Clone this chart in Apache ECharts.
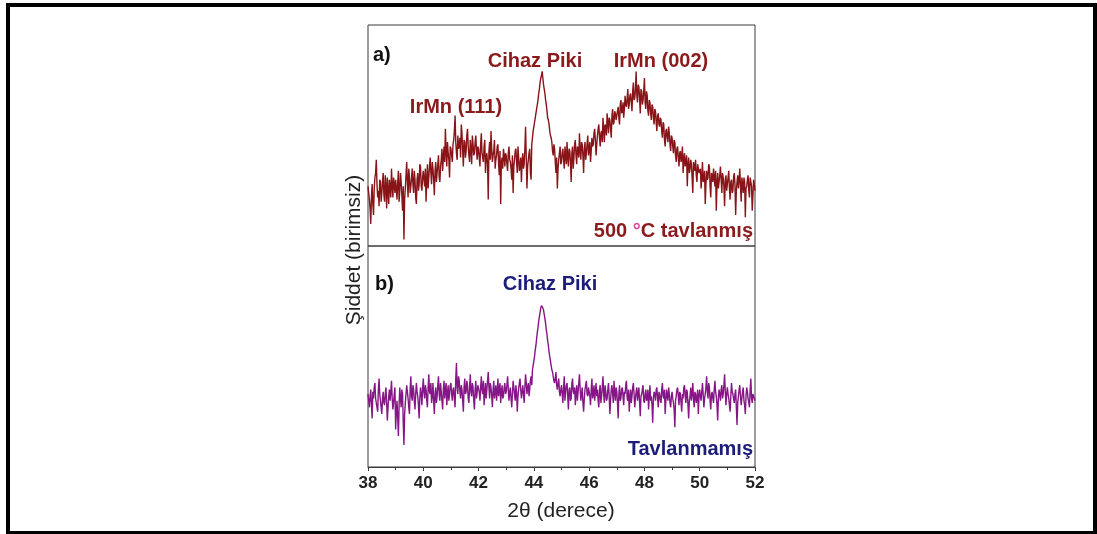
<!DOCTYPE html>
<html>
<head>
<meta charset="utf-8">
<script src="https://cdn.jsdelivr.net/npm/echarts@6/dist/echarts.min.js"></script>
<style>html,body{margin:0;padding:0;background:#fff}#c{width:1097px;height:534px}</style>
</head>
<body>
<div id="c"></div>
<script>
// 2θ sampling (degrees)
const thetaStart = 38;
const thetaStep = 0.025;
const xTicks = [38, 40, 42, 44, 46, 48, 50, 52];

// a) 500 °C annealed (arbitrary units), one row per degree
const annealed = [
27,24,21,17,10,22,28,19,14,26,31,33,39,28,22,25,18,30,29,20,24,29,33,23,20,32,27,17,31,25,19,30,26,22,35,27,22,31,28,24,
30,26,21,29,34,20,25,33,29,23,16,27,3,21,26,32,38,29,22,35,31,24,27,31,35,28,24,34,30,22,19,30,33,25,28,37,36,27,25,31,
34,30,27,35,20,29,37,26,31,36,40,33,28,38,35,30,23,34,38,29,33,37,41,31,29,36,39,44,34,40,45,38,53,43,36,47,42,39,31,45,
44,41,38,46,48,52,59,47,42,39,50,44,45,49,40,55,51,43,36,48,47,40,43,50,53,45,41,38,48,44,37,50,46,41,42,47,50,43,39,45,
44,40,36,46,51,42,40,38,45,48,33,40,42,37,21,43,47,39,52,44,38,41,43,48,35,39,41,45,46,37,32,43,19,38,40,35,44,41,36,42,
41,37,34,42,45,39,38,35,30,41,24,36,39,43,44,38,33,45,40,34,36,40,29,38,42,35,37,44,54,40,26,36,39,42,44,33,30,46,49,52,
54,56,58,60,62,64,66,69,71,74,76,77,79,76,73,71,69,66,64,61,58,57,55,52,50,49,47,43,41,46,44,38,33,40,26,35,39,42,45,37,
38,42,44,39,35,45,41,37,47,40,36,44,43,38,29,42,45,35,40,46,48,41,37,45,44,40,51,43,39,47,46,41,33,44,47,39,42,46,50,41,
44,47,38,43,49,45,46,51,53,48,41,46,50,53,55,49,45,51,52,47,58,53,47,55,54,50,60,56,51,58,57,53,49,59,62,55,56,61,60,57,
57,61,63,58,55,64,66,60,61,65,58,62,68,64,63,67,71,62,64,68,69,65,61,70,74,66,67,71,79,68,65,73,72,67,60,71,70,64,66,70,
76,65,62,70,68,61,59,66,65,60,57,64,63,58,55,62,61,56,52,59,60,55,54,58,57,52,49,56,55,48,45,52,53,49,47,54,51,46,43,50,
49,45,42,48,47,41,38,44,45,40,36,42,43,38,40,45,33,39,42,36,38,41,27,37,40,33,35,39,37,31,24,38,36,34,39,32,29,37,35,33,
33,35,26,31,38,29,30,34,19,28,34,30,31,37,36,27,22,33,32,29,35,31,27,34,16,28,33,26,29,32,36,30,24,33,31,27,18,30,32,25,
28,31,34,26,21,29,30,24,25,31,33,28,14,25,29,32,26,30,35,27,20,31,28,24,31,29,13,26,27,30,32,25,22,31,29,27,16,23,30,28,
25
];

// b) not annealed (arbitrary units), one row per degree
const unannealed = [
33,30,27,32,35,28,22,34,31,36,38,31,29,27,25,35,40,33,30,27,24,31,34,29,28,33,36,29,21,27,32,35,30,34,39,31,26,29,33,36,
17,25,30,22,14,28,36,31,27,35,33,20,10,24,29,33,37,34,31,27,24,35,41,32,30,37,35,30,26,33,38,34,32,28,22,31,36,33,28,35,
40,34,31,37,35,30,27,36,42,34,33,38,29,32,38,30,24,33,36,29,32,37,41,33,30,38,34,30,26,35,39,31,35,38,28,33,37,30,33,37,
38,33,30,35,36,31,27,40,47,36,33,41,39,34,31,37,35,30,25,36,40,33,34,39,37,31,29,36,42,34,32,38,36,30,26,35,39,31,34,37,
37,34,30,36,41,35,33,39,28,33,38,31,35,39,43,36,31,38,36,32,27,35,39,31,34,37,30,34,40,32,35,38,29,34,37,31,32,36,38,33,
34,37,41,35,30,34,36,31,27,33,39,36,33,30,37,34,25,32,35,38,40,35,31,34,37,33,29,36,42,38,33,36,38,32,35,39,41,37,44,46,
48,50,53,55,58,61,63,66,68,70,72,73,73,72,71,69,67,65,62,60,57,55,52,50,48,46,44,43,41,39,38,40,43,37,35,38,40,34,32,35,
37,33,29,36,41,30,34,37,38,32,26,35,36,30,31,38,40,34,33,36,28,33,37,30,34,38,42,35,30,33,36,29,25,31,35,37,39,33,32,36,
36,32,28,35,40,31,33,37,30,34,38,32,35,30,27,35,37,29,32,36,41,33,29,37,34,30,31,35,38,32,24,30,35,37,33,29,39,34,30,36,
34,29,22,33,37,30,31,35,36,32,28,34,33,37,39,31,30,35,25,31,35,29,32,36,38,33,27,31,34,36,30,33,36,29,23,32,33,35,37,30,
29,33,35,30,31,35,26,32,37,30,32,28,20,31,34,33,30,35,36,31,27,34,33,30,29,35,38,32,31,35,24,30,35,32,30,36,33,29,27,32,
34,31,29,26,18,30,32,35,36,32,28,34,33,29,25,33,31,36,37,32,29,35,34,28,22,30,32,36,30,33,38,31,27,34,33,29,31,35,24,32,
35,32,30,34,38,33,27,31,33,36,41,34,31,38,36,30,26,33,34,31,29,35,39,34,32,28,21,31,35,33,30,35,37,31,33,37,42,34,28,33,
36,33,31,28,25,32,38,34,33,31,29,33,35,27,19,29,32,35,37,32,28,31,34,36,30,28,24,32,36,34,31,29,27,35,40,31,29,33,33,31,
30
];

function pairs(vals) {
  return vals.map((v, i) => [+(thetaStart + i * thetaStep).toFixed(3), v]);
}

const chart = echarts.init(document.getElementById('c'), null, {renderer: 'canvas'});

const redText = '#8b1a1c';
const navyText = '#1c1c7a';
const boldFont = 'bold 20px "Liberation Sans", Arial, sans-serif';

const option = {
  animation: false,
  backgroundColor: '#fff',
  grid: [
    {left: 368, top: 25, width: 387, height: 221, show: true, borderColor: '#3a3a3a', borderWidth: 1, backgroundColor: 'transparent'},
    {left: 368, top: 246, width: 387, height: 221, show: true, borderColor: '#3a3a3a', borderWidth: 1, backgroundColor: 'transparent'}
  ],
  xAxis: [
    {gridIndex: 0, type: 'value', min: 38, max: 52, interval: 2,
     axisLine: {show: false}, axisTick: {show: false}, axisLabel: {show: false}, splitLine: {show: false}},
    {gridIndex: 1, type: 'value', min: 38, max: 52, interval: 2,
     axisLine: {show: true, onZero: false, lineStyle: {color: '#3a3a3a', width: 1}},
     axisTick: {show: true, inside: false, length: 4, lineStyle: {color: '#3a3a3a'}},
     minorTick: {show: true, splitNumber: 2, length: 3, lineStyle: {color: '#3a3a3a'}},
     axisLabel: {show: true, margin: 8, color: '#222', fontSize: 17, fontWeight: 'bold', fontFamily: '"Liberation Sans", Arial, sans-serif',
       formatter: v => xTicks.includes(v) ? String(v) : ''},
     splitLine: {show: false}}
  ],
  yAxis: [
    {gridIndex: 0, type: 'value', min: 0, max: 100, show: false},
    {gridIndex: 1, type: 'value', min: 0, max: 100, show: false}
  ],
  series: [
    {type: 'line', xAxisIndex: 0, yAxisIndex: 0, data: pairs(annealed), showSymbol: false, symbol: 'none', sampling: null,
     lineStyle: {color: '#881418', width: 1.4}, silent: true},
    {type: 'line', xAxisIndex: 1, yAxisIndex: 1, data: pairs(unannealed), showSymbol: false, symbol: 'none', sampling: null,
     lineStyle: {color: '#861686', width: 1.4}, silent: true}
  ],
  graphic: [
    {type: 'rect', shape: {x: 8, y: 5, width: 1087, height: 528}, style: {fill: 'none', stroke: '#000', lineWidth: 4}, silent: true},
    {type: 'text', style: {text: 'a)', x: 373, y: 55, font: boldFont, fill: '#111', textAlign: 'left', textVerticalAlign: 'middle'}},
    {type: 'text', style: {text: 'Cihaz Piki', x: 535, y: 61, font: boldFont, fill: redText, textAlign: 'center', textVerticalAlign: 'middle'}},
    {type: 'text', style: {text: 'IrMn (002)', x: 661, y: 61, font: boldFont, fill: redText, textAlign: 'center', textVerticalAlign: 'middle'}},
    {type: 'text', style: {text: 'IrMn (111)', x: 456, y: 107, font: boldFont, fill: redText, textAlign: 'center', textVerticalAlign: 'middle'}},
    {type: 'text', style: {
      text: '{a|500 }{b|°}{a|C tavlanmış}', x: 753, y: 231, textAlign: 'right', textVerticalAlign: 'middle',
      rich: {
        a: {font: boldFont, fill: redText},
        b: {font: 'bold 20px "Liberation Sans", Arial, sans-serif', fill: '#d0489e'}
      }}},
    {type: 'text', style: {text: 'b)', x: 375, y: 284, font: boldFont, fill: '#111', textAlign: 'left', textVerticalAlign: 'middle'}},
    {type: 'text', style: {text: 'Cihaz Piki', x: 550, y: 284, font: boldFont, fill: navyText, textAlign: 'center', textVerticalAlign: 'middle'}},
    {type: 'text', style: {text: 'Tavlanmamış', x: 753, y: 449, font: boldFont, fill: navyText, textAlign: 'right', textVerticalAlign: 'middle'}},
    {type: 'text', rotation: Math.PI / 2, x: 354, y: 250,
     style: {text: 'Şiddet (birimsiz)', x: 0, y: 0, font: '21px "Liberation Sans", Arial, sans-serif', fill: '#222', textAlign: 'center', textVerticalAlign: 'middle'}},
    {type: 'text', style: {text: '2θ (derece)', x: 561, y: 511, font: '21px "Liberation Sans", Arial, sans-serif', fill: '#222', textAlign: 'center', textVerticalAlign: 'middle'}}
  ]
};
chart.setOption(option);
</script>
</body>
</html>
